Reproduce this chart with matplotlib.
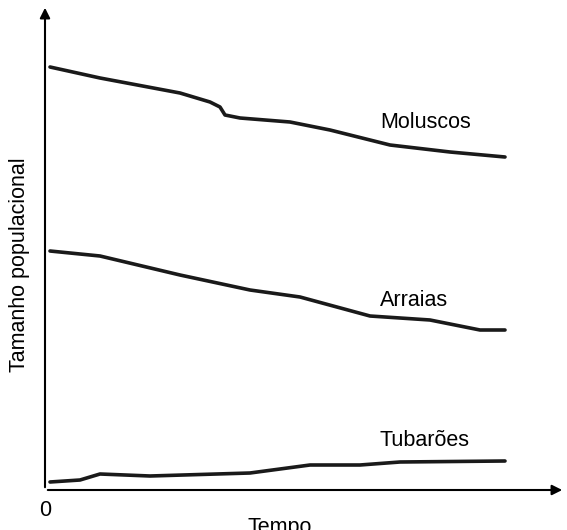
import matplotlib.pyplot as plt

plt.rcParams['font.family'] = ['Liberation Sans', 'DejaVu Sans']

# approximate values (time, population size)
mol_t = [5, 55, 135, 165, 175, 180, 195, 245, 285, 345, 405, 460]
mol_y = [423, 412, 397, 388, 383, 375, 372, 368, 360, 345, 338, 333]
arr_t = [5, 55, 135, 205, 255, 325, 385, 435, 460]
arr_y = [239, 234, 215, 200, 193, 174, 170, 160, 160]
tub_t = [5, 35, 55, 105, 205, 265, 315, 355, 460]
tub_y = [8, 10, 16, 14, 17, 25, 25, 28, 29]

fig = plt.figure(figsize=(5.67, 5.30), dpi=100)
ax = fig.add_axes([45/567, 40/530, 520/567, 485/530])
ax.set_xlim(0, 520)
ax.set_ylim(0, 485)
for s in ax.spines.values():
    s.set_visible(False)
ax.set_xticks([])
ax.set_yticks([])

# axes with arrows
ax.annotate('', xy=(1, 0), xytext=(0, 0), xycoords='axes fraction',
            arrowprops=dict(arrowstyle='-|>', color='black', lw=1.5, mutation_scale=15))
ax.annotate('', xy=(0, 1), xytext=(0, 0), xycoords='axes fraction',
            arrowprops=dict(arrowstyle='-|>', color='black', lw=1.5, mutation_scale=15))

for t, y in [(mol_t, mol_y), (arr_t, arr_y), (tub_t, tub_y)]:
    ax.plot(t, y, color='#1a1a1a', lw=2.6, solid_capstyle='round')

fs = 15.5
ax.text(335, 368, 'Moluscos', fontsize=fs, va='center')
ax.text(335, 190, 'Arraias', fontsize=fs, va='center')
ax.text(335, 50, 'Tubarões', fontsize=fs, va='center')

fig.text(45/567, 1 - 510/530, '0', fontsize=fs, ha='center', va='center')
fig.text(280/567, 1 - 527/530, 'Tempo', fontsize=fs, ha='center', va='center')
fig.text(20/567, 1 - 265/530, 'Tamanho populacional', fontsize=fs,
         ha='center', va='center', rotation=90)

fig.savefig('out.png', dpi=100)
